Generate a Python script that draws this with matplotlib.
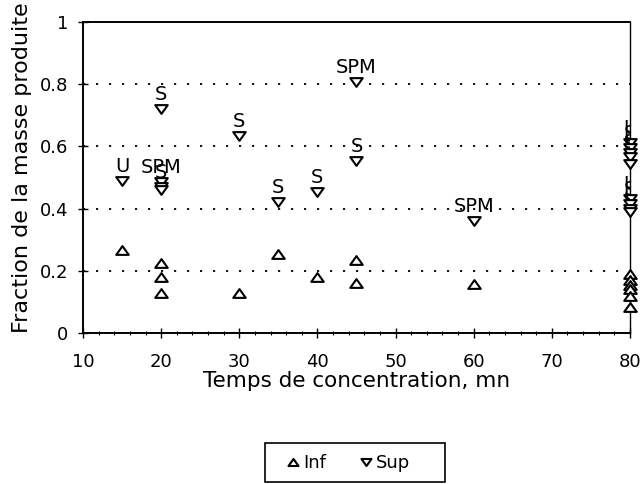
import matplotlib
matplotlib.use("Agg")
import matplotlib.pyplot as plt
from matplotlib.ticker import MultipleLocator
from matplotlib.path import Path
from matplotlib.patches import Rectangle

plt.rcParams['font.family'] = ['DejaVu Sans']

# ---- data ----
inf_x = [15, 20, 20, 20, 30, 35, 40, 45, 45, 60, 80, 80, 80, 80, 80, 80]
inf_y = [0.267, 0.224, 0.181, 0.129, 0.129, 0.253, 0.179, 0.234, 0.161, 0.157,
         0.19, 0.17, 0.155, 0.14, 0.12, 0.085]

sup_x = [15, 20, 20, 20, 20, 30, 35, 40, 45, 45, 60,
         80, 80, 80, 80, 80, 80, 80, 80, 80]
sup_y = [0.49, 0.72, 0.485, 0.47, 0.46, 0.633, 0.422, 0.454, 0.808, 0.554, 0.361,
         0.61, 0.595, 0.58, 0.565, 0.545, 0.43, 0.415, 0.40, 0.39]
sup_lab = ["U", "S", "SPM", "S", "", "S", "S", "S", "SPM", "S", "SPM",
           "U", "S", "U", "S", "", "U", "S", "U", ""]

x_ticks = [10, 20, 30, 40, 50, 60, 70, 80]
y_ticks = [0, 0.2, 0.4, 0.6, 0.8, 1]
y_ticklabels = ["0", "0.2", "0.4", "0.6", "0.8", "1"]

# wide, flat triangles
tri_up = Path([(-1, -0.7), (1, -0.7), (0, 0.7), (-1, -0.7)],
              [Path.MOVETO, Path.LINETO, Path.LINETO, Path.CLOSEPOLY])
tri_dn = Path([(-1, 0.7), (1, 0.7), (0, -0.7), (-1, 0.7)],
              [Path.MOVETO, Path.LINETO, Path.LINETO, Path.CLOSEPOLY])

# ---- figure ----
fig = plt.figure(figsize=(6.42, 4.84), dpi=100)
ax = fig.add_axes([83 / 642, 1 - 333 / 484, 547 / 642, 311 / 484])

for yv in y_ticks[1:-1]:
    ax.axhline(yv, color='black', linestyle=(0, (1.2, 6)), linewidth=1.3, zorder=1)

h_inf, = ax.plot(inf_x, inf_y, linestyle='none', marker=tri_up, markersize=9,
                 markerfacecolor='white', markeredgecolor='black',
                 markeredgewidth=1.5, label='Inf', zorder=3, clip_on=False)
h_sup, = ax.plot(sup_x, sup_y, linestyle='none', marker=tri_dn, markersize=9,
                 markerfacecolor='white', markeredgecolor='black',
                 markeredgewidth=1.5, label='Sup', zorder=3, clip_on=False)

for xv, yv, lab in zip(sup_x, sup_y, sup_lab):
    if lab:
        ax.annotate(lab, (xv, yv), xytext=(0, 10.5), textcoords='offset points',
                    ha='center', va='center', fontsize=14, color='black',
                    annotation_clip=False, clip_on=True, zorder=4)

ax.set_xlim(10, 80)
ax.set_ylim(0, 1)
ax.set_xticks(x_ticks)
ax.set_yticks(y_ticks)
ax.set_yticklabels(y_ticklabels)
ax.xaxis.set_minor_locator(MultipleLocator(2))
ax.tick_params(axis='both', which='major', direction='inout', length=7,
               width=1, labelsize=13, colors='black')
ax.tick_params(axis='x', which='minor', direction='inout', length=3, width=0.8)
ax.tick_params(axis='y', pad=7)
ax.tick_params(axis='x', pad=11)

for s in ax.spines.values():
    s.set_color('black')
    s.set_linewidth(1.4)
ax.spines['right'].set_linewidth(1.0)

ax.set_xlabel("Temps de concentration, mn", fontsize=15.5, labelpad=0)
ax.set_ylabel("Fraction de la masse produite", fontsize=16)
ax.yaxis.set_label_coords(-0.093, 0.53)

# legend (entries) + its box
leg = fig.legend(handles=[h_inf, h_sup], labels=['Inf', 'Sup'], ncol=2,
                 loc='center left', bbox_to_anchor=(286 / 642, 1 - 463 / 484),
                 fontsize=13, frameon=False, markerscale=0.8,
                 handlelength=0.8, handletextpad=0.15, columnspacing=1.8,
                 borderpad=0.0, borderaxespad=0.0)
fig.add_artist(Rectangle((265 / 642, 1 - 482 / 484), 180 / 642, 39 / 484,
                         transform=fig.transFigure, fill=False,
                         edgecolor='black', linewidth=1.2))

fig.savefig("out.png", dpi=100, facecolor='white')
